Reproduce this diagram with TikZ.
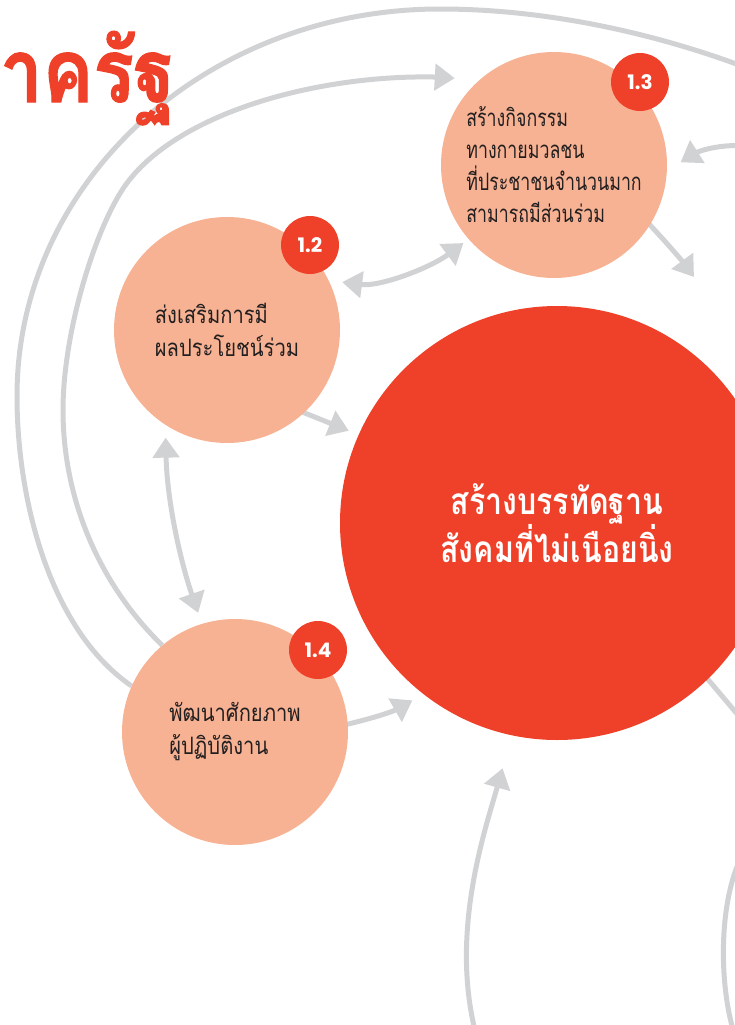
\documentclass[tikz,border=0pt]{standalone}
\usepackage{fontspec}
\newfontfamily\thaic[Script=Thai,FakeStretch=0.74]{Loma}
\newfontfamily\thaid[Script=Thai,FakeStretch=0.84]{Loma}
\newfontfamily\thaib[Script=Thai,FakeStretch=0.82]{Loma}
\newfontfamily\thait[Script=Thai,FakeStretch=0.86,BoldFeatures={FakeBold=1.2}]{Loma}
\newfontfamily\numfont{Poppins}
\usetikzlibrary{arrows.meta}
\pgfdeclarelayer{bg}
\pgfsetlayers{bg,main}
\definecolor{redc}{RGB}{239,65,41}
\definecolor{salmon}{RGB}{247,178,147}
\definecolor{grayc}{RGB}{209,210,212}
\definecolor{txt}{RGB}{35,31,32}
\begin{document}
\begin{tikzpicture}[x=1pt,y=-1pt,
  link/.style={draw=grayc,line width=5pt},
  arr/.style={link,-{Triangle[length=20pt,width=26pt]}},
  dbl/.style={link,{Triangle[length=20pt,width=26pt]}-{Triangle[length=20pt,width=26pt]}},
  sub/.style={circle,fill=salmon,minimum size=226pt,inner sep=0pt,align=left,
    font=\thaic\fontsize{24}{32}\selectfont,text=txt},
  wide/.style={font=\thaid\fontsize{24}{33}\selectfont},
  core/.style={circle,fill=redc,minimum size=434pt,inner sep=0pt,align=center,
    font=\thaib\bfseries\fontsize{37}{48}\selectfont,text=white},
  badge/.style={circle,fill=redc,minimum size=58pt,inner sep=0pt,text=white,
    font=\numfont\bfseries\fontsize{20}{22}\selectfont},
]
\useasboundingbox (0,0) rectangle (735,1025);
\clip (0,0) rectangle (735,1025);

% title (cut at the left edge)
\node[anchor=base west,inner sep=0pt,text=redc,
  font=\thait\bfseries\fontsize{88}{94}\selectfont] (title) at (0,102) {าครัฐ};

% circles
\node[core] (big) at (557,523) {สร้างบรรทัดฐาน\\สังคมที่ไม่เนือยนิ่ง};
\node[sub,wide] (c12) at (227,330) {ส่งเสริมการมี\\ผลประโยชน์ร่วม};
\node[sub] (c13) at (554,165) {สร้างกิจกรรม\\ทางกายมวลชน\\ที่ประชาชนจำนวนมาก\\สามารถมีส่วนร่วม};
\node[sub,wide] (c14) at (235,732) {พัฒนาศักยภาพ\\ผู้ปฏิบัติงาน};

\node[badge] (b12) at (310,245) {1.2};
\node[badge] (b13) at (640,82) {1.3};
\node[badge] (b14) at (318,650) {1.4};

% free ends
\coordinate (e13) at (694,277);
\coordinate (s13) at (750,146);
\coordinate (sb) at (479,1045);
\coordinate (eb) at (770,753);
\coordinate (r1) at (745,850);
\coordinate (r2) at (738,1045);
\coordinate (o1) at (800,90);

\begin{pgfonlayer}{bg}
% outer loop
\draw[link] (c14.156) .. controls (50,630) and (17,500) .. (17,396)
  .. controls (17,182) and (206,9) .. (440,9)
  .. controls (560,9) and (690,40) .. (o1);
% inner loop
\draw[arr,shorten >=25pt] (c14.130.3) .. controls (100,585) and (63,500) .. (63,410)
  .. controls (63,330) and (97,223) .. (127,183)
  .. controls (181,111) and (320,75) .. (433,77) -- (c13.131.7);

\draw[arr,shorten <=-4pt,shorten >=10.5pt] (c12.-47.5) -- (big.156.7);
\draw[dbl,shorten <=13.5pt,shorten >=6.3pt] (c12.26) .. controls (380,287) and (430,268) .. (c13.-139.5);
\draw[dbl,shorten <=12.7pt,shorten >=11.5pt] (c12.-123.5) .. controls (167,500) and (180,560) .. (c14.107.1);
\draw[arr,shorten <=-4pt,shorten >=12.5pt] (c14.4.6) .. controls (370,719) and (392,712) .. (big.-128.2);
\draw[arr,shorten <=-4pt] (c13.-32.6) .. controls (667,243) and (683,262) .. (e13);
\draw[arr,shorten >=16pt] (s13) .. controls (712,143) and (692,155) .. (c13.-3.5);
\draw[arr,shorten >=34pt] (sb) .. controls (447,940) and (484.6,831.7) .. (big.-102.3);
\draw[link,shorten <=-4pt] (big.-46) -- (eb);
\draw[link] (r1) .. controls (718,895) and (717,990) .. (r2);
\end{pgfonlayer}
\end{tikzpicture}
\end{document}
